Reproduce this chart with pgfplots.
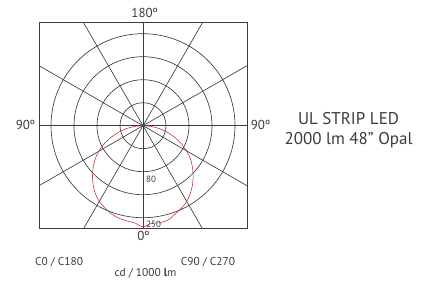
\documentclass[border=0pt]{standalone}
\usepackage{pgfplots}
\pgfplotsset{compat=1.18}
\usepackage{fontspec}
\setmainfont{PT Sans}
\definecolor{gridc}{RGB}{60,60,60}
\definecolor{curvec}{RGB}{190,45,50}
\pgfplotstableread{
ang r
180 0
185 8.5
190 17
195 25.5
200 34
205 43
210 51
215 58.5
220 65
225 71.5
230 77.5
235 83
240 87.5
245 90.5
250 93.5
255 95.5
260 96.5
265 97.5
270 101
275 98
280 98.5
285 97.5
290 94
295 91
300 87.5
305 82.5
310 77
315 71
320 64.5
325 58
330 50
335 42
340 33.5
345 25
350 16.5
355 8
360 0
}\curve
\begin{document}
\begin{tikzpicture}[x=1pt,y=1pt]
\path[use as bounding box] (0,0) rectangle (422,-286);
\begin{axis}[
  at={(143pt,-125.7pt)}, anchor=center,
  x=1pt, y=1pt, scale only axis,
  xmin=-104, xmax=104, ymin=-103, ymax=103,
  axis line style={gridc, line width=0.8pt},
  ticks=none,
]
\pgfplotsinvokeforeach{23,46,69,92}{
  \draw[gridc, line width=0.65pt] (axis cs:0,0) circle[radius=#1];
}
\pgfplotsinvokeforeach{0,30,60,90,120,150,180,210,240,270,300,330}{
  \draw[gridc, line width=0.65pt] (axis cs:0,0) -- (axis cs:{300*cos(#1)},{300*sin(#1)});
}
\addplot[curvec, line width=0.55pt, data cs=polar, smooth] table[x=ang, y=r] {\curve};
\end{axis}
\begin{scope}[text=gridc, every node/.style={anchor=base, inner sep=0pt}]
\node[font=\fontsize{13}{15}\selectfont] at (144.7,-17.3) {180º};
\node[font=\fontsize{13}{15}\selectfont] at (25.5,-129) {90º};
\node[font=\fontsize{13}{15}\selectfont] at (260.5,-129) {90º};
\node[font=\fontsize{13}{15}\selectfont] at (143.5,-240.7) {0º};
\node[font=\fontsize{9}{10}\selectfont, anchor=base west] at (146,-182) {80};
\node[font=\fontsize{9}{10}\selectfont, anchor=base west] at (146,-227) {250};
\node[font=\fontsize{11.4}{13}\selectfont] at (59,-265) {C0 / C180};
\node[font=\fontsize{11.4}{13}\selectfont] at (208,-265) {C90 / C270};
\node[font=\fontsize{11.4}{13}\selectfont] at (145.5,-276.5) {cd / 1000 \textbf{l}m};
\node[font=\fontsize{17}{20}\selectfont] at (348.5,-124.4) {UL STRIP LED};
\node[font=\fontsize{17}{20}\selectfont] at (348.5,-144.5) {2000 lm 48” Opal};
\end{scope}
\end{tikzpicture}
\end{document}
